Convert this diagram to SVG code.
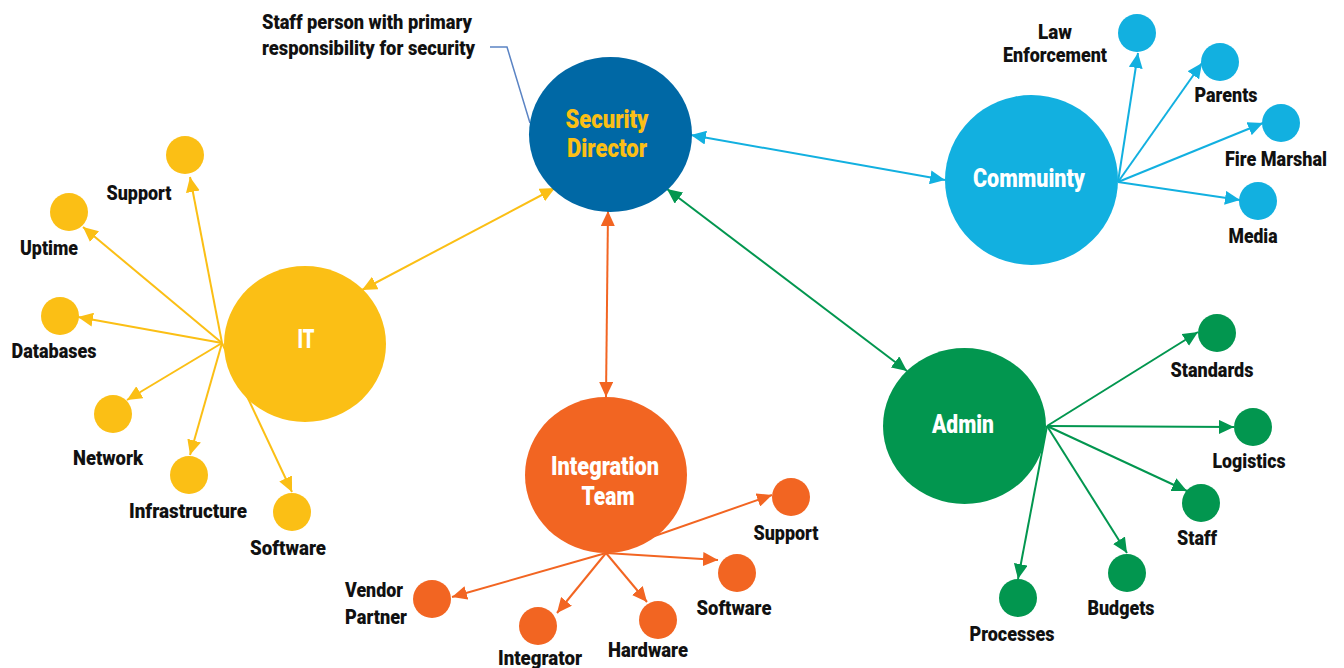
<svg xmlns="http://www.w3.org/2000/svg" width="1344" height="668" viewBox="0 0 1344 668">
<style>
text{font-family:Roboto,"Liberation Sans",sans-serif;font-weight:900}
.lbl{font-size:21px;fill:#111;text-anchor:middle}
.sm{font-size:20px}
.ann{font-size:21px;fill:#111}
.big{font-size:25px;fill:#fff;text-anchor:middle}
.sd{fill:#fbbf15}
.cb{stroke:#12b0e0;stroke-width:2;fill:none}
.cy{stroke:#fbbf15;stroke-width:2;fill:none}
.co{stroke:#f26522;stroke-width:2;fill:none}
.cg{stroke:#02964f;stroke-width:2;fill:none}
.nb{fill:#12b0e0}.ny{fill:#fbbf15}.no{fill:#f26522}.ng{fill:#02964f}
</style>
<defs>
<marker id="ab" markerUnits="userSpaceOnUse" markerWidth="16" markerHeight="14" refX="15" refY="7" orient="auto-start-reverse"><path d="M0,0 L15,7 L0,14 z" fill="#12b0e0"/></marker>
<marker id="ay" markerUnits="userSpaceOnUse" markerWidth="16" markerHeight="14" refX="15" refY="7" orient="auto-start-reverse"><path d="M0,0 L15,7 L0,14 z" fill="#fbbf15"/></marker>
<marker id="ao" markerUnits="userSpaceOnUse" markerWidth="16" markerHeight="14" refX="15" refY="7" orient="auto-start-reverse"><path d="M0,0 L15,7 L0,14 z" fill="#f26522"/></marker>
<marker id="ag" markerUnits="userSpaceOnUse" markerWidth="16" markerHeight="14" refX="15" refY="7" orient="auto-start-reverse"><path d="M0,0 L15,7 L0,14 z" fill="#02964f"/></marker>
</defs>
<rect width="1344" height="668" fill="#fff"/>
<g id="connectors">
<polyline points="490,47 507,47 530,123" fill="none" stroke="#5b84c4" stroke-width="1.5"/>
<line class="cb" x1="691" y1="135" x2="945" y2="180" marker-start="url(#ab)" marker-end="url(#ab)"/>
<line class="cy" x1="555" y1="188" x2="362" y2="290" marker-start="url(#ay)" marker-end="url(#ay)"/>
<line class="co" x1="608" y1="211" x2="606" y2="397" marker-start="url(#ao)" marker-end="url(#ao)"/>
<line class="cg" x1="667" y1="189" x2="907" y2="371" marker-start="url(#ag)" marker-end="url(#ag)"/>
<line class="cb" x1="1118" y1="182" x2="1138" y2="53" marker-end="url(#ab)"/>
<line class="cb" x1="1118" y1="182" x2="1202" y2="63" marker-end="url(#ab)"/>
<line class="cb" x1="1118" y1="182" x2="1263" y2="123" marker-end="url(#ab)"/>
<line class="cb" x1="1118" y1="182" x2="1240" y2="200" marker-end="url(#ab)"/>
<line class="cy" x1="222" y1="343" x2="190" y2="177" marker-end="url(#ay)"/>
<line class="cy" x1="222" y1="343" x2="83" y2="227" marker-end="url(#ay)"/>
<line class="cy" x1="222" y1="343" x2="78" y2="317" marker-end="url(#ay)"/>
<line class="cy" x1="222" y1="343" x2="127" y2="400" marker-end="url(#ay)"/>
<line class="cy" x1="222" y1="343" x2="190" y2="455" marker-end="url(#ay)"/>
<line class="cy" x1="222" y1="343" x2="292" y2="492" marker-end="url(#ay)"/>
<line class="co" x1="606" y1="553" x2="772" y2="495" marker-end="url(#ao)"/>
<line class="co" x1="606" y1="553" x2="718" y2="560" marker-end="url(#ao)"/>
<line class="co" x1="606" y1="553" x2="647" y2="602" marker-end="url(#ao)"/>
<line class="co" x1="606" y1="553" x2="557" y2="613" marker-end="url(#ao)"/>
<line class="co" x1="606" y1="553" x2="452" y2="597" marker-end="url(#ao)"/>
<line class="cg" x1="1047" y1="426" x2="1198" y2="332" marker-end="url(#ag)"/>
<line class="cg" x1="1047" y1="426" x2="1234" y2="427" marker-end="url(#ag)"/>
<line class="cg" x1="1047" y1="426" x2="1187" y2="491" marker-end="url(#ag)"/>
<line class="cg" x1="1047" y1="426" x2="1127" y2="553" marker-end="url(#ag)"/>
<line class="cg" x1="1047" y1="426" x2="1018" y2="579" marker-end="url(#ag)"/>
</g>
<g id="note">
<text class="ann" x="262" y="29" textLength="210" lengthAdjust="spacingAndGlyphs">Staff person with primary</text>
<text class="ann" x="262" y="55" textLength="213" lengthAdjust="spacingAndGlyphs">responsibility for security</text>
</g>
<g id="security-director">
<ellipse cx="610.5" cy="134.5" rx="81.5" ry="77.5" fill="#0068a5"/>
<text class="big sd" x="607" y="128" textLength="83" lengthAdjust="spacingAndGlyphs">Security</text>
<text class="big sd" x="607" y="157" textLength="80" lengthAdjust="spacingAndGlyphs">Director</text>
</g>
<g id="community">
<ellipse cx="1031.5" cy="180" rx="86.5" ry="85" class="nb"/>
<text class="big" x="1029" y="187" textLength="112" lengthAdjust="spacingAndGlyphs">Commuinty</text>
</g>
<g id="it">
<ellipse cx="305" cy="344" rx="81" ry="78" class="ny"/>
<text class="big" x="306" y="348" textLength="17" lengthAdjust="spacingAndGlyphs">IT</text>
</g>
<g id="integration-team">
<ellipse cx="606" cy="475" rx="81" ry="78" class="no"/>
<text class="big" x="605" y="475" textLength="108" lengthAdjust="spacingAndGlyphs">Integration</text>
<text class="big" x="608" y="505" textLength="53" lengthAdjust="spacingAndGlyphs">Team</text>
</g>
<g id="admin">
<ellipse cx="964.5" cy="426" rx="81.5" ry="78" class="ng"/>
<text class="big" x="963" y="433" textLength="62" lengthAdjust="spacingAndGlyphs">Admin</text>
</g>
<g id="law-enforcement"><circle cx="1137" cy="33" r="19" class="nb"/>
<text class="lbl sm" x="1055" y="39" textLength="34" lengthAdjust="spacingAndGlyphs">Law</text>
<text class="lbl sm" x="1055" y="62" textLength="104" lengthAdjust="spacingAndGlyphs">Enforcement</text></g>
<g id="parents"><circle cx="1220" cy="62" r="19" class="nb"/>
<text class="lbl" x="1226" y="102" textLength="63" lengthAdjust="spacingAndGlyphs">Parents</text></g>
<g id="fire-marshal"><circle cx="1281" cy="123" r="19" class="nb"/>
<text class="lbl" x="1276" y="166" textLength="102" lengthAdjust="spacingAndGlyphs">Fire Marshal</text></g>
<g id="media"><circle cx="1258" cy="201" r="19" class="nb"/>
<text class="lbl" x="1253" y="243" textLength="49" lengthAdjust="spacingAndGlyphs">Media</text></g>
<g id="it-support"><circle cx="185" cy="155" r="19" class="ny"/>
<text class="lbl" x="139" y="200" textLength="65" lengthAdjust="spacingAndGlyphs">Support</text></g>
<g id="uptime"><circle cx="69" cy="212" r="19" class="ny"/>
<text class="lbl" x="49" y="255" textLength="58" lengthAdjust="spacingAndGlyphs">Uptime</text></g>
<g id="databases"><circle cx="60" cy="316" r="19" class="ny"/>
<text class="lbl" x="54" y="358" textLength="85" lengthAdjust="spacingAndGlyphs">Databases</text></g>
<g id="network"><circle cx="113" cy="414" r="19" class="ny"/>
<text class="lbl" x="108" y="465" textLength="70" lengthAdjust="spacingAndGlyphs">Network</text></g>
<g id="infrastructure"><circle cx="189" cy="475" r="19" class="ny"/>
<text class="lbl" x="188" y="518" textLength="118" lengthAdjust="spacingAndGlyphs">Infrastructure</text></g>
<g id="it-software"><circle cx="292" cy="512" r="19" class="ny"/>
<text class="lbl" x="288" y="555" textLength="76" lengthAdjust="spacingAndGlyphs">Software</text></g>
<g id="int-support"><circle cx="791" cy="497" r="19" class="no"/>
<text class="lbl" x="786" y="540" textLength="65" lengthAdjust="spacingAndGlyphs">Support</text></g>
<g id="int-software"><circle cx="737" cy="573" r="19" class="no"/>
<text class="lbl" x="734" y="615" textLength="75" lengthAdjust="spacingAndGlyphs">Software</text></g>
<g id="hardware"><circle cx="658" cy="620" r="19" class="no"/>
<text class="lbl" x="648" y="657" textLength="80" lengthAdjust="spacingAndGlyphs">Hardware</text></g>
<g id="integrator"><circle cx="538" cy="626" r="19" class="no"/>
<text class="lbl" x="540" y="665" textLength="84" lengthAdjust="spacingAndGlyphs">Integrator</text></g>
<g id="vendor-partner"><circle cx="432" cy="599" r="19" class="no"/>
<text class="lbl" x="374" y="597" textLength="58" lengthAdjust="spacingAndGlyphs">Vendor</text>
<text class="lbl" x="376" y="624" textLength="62" lengthAdjust="spacingAndGlyphs">Partner</text></g>
<g id="standards"><circle cx="1217" cy="333" r="19" class="ng"/>
<text class="lbl" x="1212" y="377" textLength="83" lengthAdjust="spacingAndGlyphs">Standards</text></g>
<g id="logistics"><circle cx="1253" cy="427" r="19" class="ng"/>
<text class="lbl" x="1249" y="468" textLength="73" lengthAdjust="spacingAndGlyphs">Logistics</text></g>
<g id="staff"><circle cx="1201" cy="503" r="19" class="ng"/>
<text class="lbl" x="1197" y="545" textLength="40" lengthAdjust="spacingAndGlyphs">Staff</text></g>
<g id="budgets"><circle cx="1127" cy="573" r="19" class="ng"/>
<text class="lbl" x="1121" y="615" textLength="67" lengthAdjust="spacingAndGlyphs">Budgets</text></g>
<g id="processes"><circle cx="1018" cy="598" r="19" class="ng"/>
<text class="lbl" x="1012" y="641" textLength="85" lengthAdjust="spacingAndGlyphs">Processes</text></g>
</svg>
